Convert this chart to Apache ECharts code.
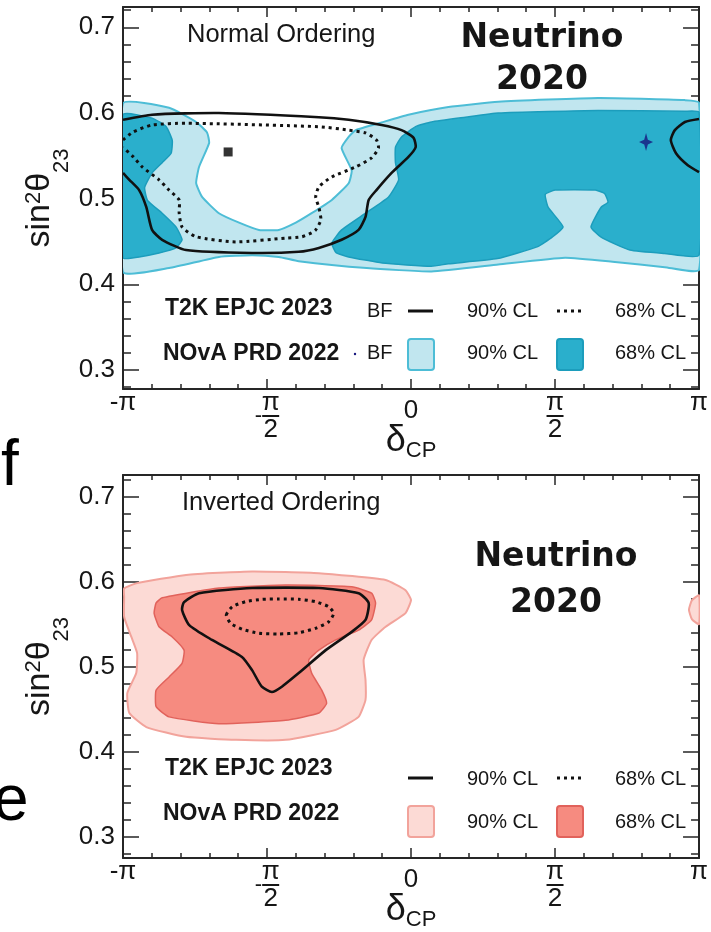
<!DOCTYPE html>
<html>
<head>
<meta charset="utf-8">
<title>T2K and NOvA: sin²θ23 vs δCP</title>
<script src="https://cdn.jsdelivr.net/npm/echarts@6/dist/echarts.min.js"></script>
<style>
  html, body { margin: 0; padding: 0; background: #fff; }
  #chart { width: 711px; height: 932px; }
</style>
</head>
<body>
<div id="chart"></div>
<script>
// δCP is stored in units of π (−1 … 1); sin²θ23 as is.

// ---- Normal ordering (upper panel) ----
const noNova90 = [
  [-1,0.611],[-0.84,0.606],[-0.746,0.5895],[-0.708,0.577],[-0.701,0.565],[-0.736,0.537],
  [-0.746,0.518],[-0.7255,0.502],[-0.667,0.483],[-0.597,0.472],[-0.528,0.4635],[-0.459,0.4635],
  [-0.400,0.472],[-0.345,0.483],[-0.275,0.4985],[-0.2165,0.518],[-0.206,0.533],[-0.241,0.559],
  [-0.2165,0.572],[-0.192,0.580],[-0.102,0.589],[-0.009,0.598],[0.13,0.607],[0.303,0.613],
  [0.649,0.6175],[0.95,0.615],[1,0.612],
  [1,0.417],[0.881,0.420],[0.708,0.426],[0.535,0.431],[0.303,0.423],[0.071,0.415],
  [-0.154,0.419],[-0.39,0.427],[-0.459,0.432],[-0.552,0.434],[-0.667,0.432],[-0.84,0.419],[-1,0.4145]
];
const noNova68Left = [
  [-1,0.598],[-0.899,0.594],[-0.85,0.584],[-0.829,0.568],[-0.833,0.553],[-0.864,0.542],
  [-0.899,0.530],[-0.925,0.513],[-0.915,0.498],[-0.864,0.483],[-0.816,0.467],[-0.795,0.452],
  [-0.816,0.4425],[-0.875,0.4365],[-0.944,0.432],[-1,0.431]
];
const noNova68Right = [
  [-0.275,0.448],[-0.241,0.4635],[-0.158,0.483],[-0.078,0.502],[-0.043,0.522],[-0.054,0.542],
  [-0.054,0.560],[-0.033,0.572],[0.016,0.584],[0.071,0.5895],[0.189,0.595],[0.303,0.600],
  [0.649,0.603],[0.95,0.602],[1,0.601],
  [1,0.434],[0.88,0.436],[0.76,0.440],[0.66,0.455],[0.625,0.467],[0.66,0.490],[0.684,0.496],
  [0.672,0.506],[0.64,0.510],[0.50,0.510],[0.466,0.505],[0.476,0.490],[0.528,0.467],
  [0.49,0.455],[0.44,0.444],[0.30,0.430],[0.13,0.424],[0.07,0.421],[-0.10,0.425],
  [-0.2165,0.432],[-0.26,0.437]
];
const noT2K90Main = [
  [-1,0.592],[-0.899,0.598],[-0.667,0.600],[-0.32,0.595],[-0.2165,0.592],[-0.102,0.586],
  [-0.033,0.580],[0.009,0.571],[0.016,0.560],[-0.009,0.5487],[-0.0675,0.530],[-0.12,0.510],
  [-0.147,0.4985],[-0.158,0.4787],[-0.182,0.4635],[-0.241,0.452],[-0.32,0.4425],[-0.39,0.438],
  [-0.552,0.4366],[-0.781,0.440],[-0.864,0.452],[-0.899,0.4635],[-0.919,0.490],[-0.944,0.510],
  [-0.978,0.522],[-1,0.530]
];
const noT2K90Wrap = [
  [1,0.593],[0.951,0.5895],[0.916,0.580],[0.902,0.5685],[0.92,0.553],[0.961,0.539],[1,0.531]
];
const noT2K68 = [
  [-1,0.5685],[-0.964,0.578],[-0.899,0.586],[-0.781,0.588],[-0.32,0.584],[-0.2165,0.580],
  [-0.158,0.5767],[-0.12,0.5685],[-0.113,0.559],[-0.137,0.5475],[-0.192,0.537],[-0.275,0.5253],
  [-0.32,0.5137],[-0.331,0.502],[-0.32,0.490],[-0.313,0.475],[-0.331,0.4635],[-0.345,0.460],
  [-0.379,0.4555],[-0.435,0.454],[-0.608,0.4495],[-0.746,0.4555],[-0.795,0.467],[-0.805,0.4833],
  [-0.805,0.4985],[-0.84,0.510],[-0.875,0.522],[-0.933,0.537],[-0.964,0.5487],[-1,0.560]
];
const noT2KBest = [[-0.635, 0.5545]];
const noNovaBest = [[0.816, 0.566]];

// ---- Inverted ordering (lower panel) ----
const ioNova90 = [
  [-0.996,0.592],[-0.954,0.598],[-0.781,0.608],[-0.552,0.612],[-0.32,0.610],[-0.088,0.602],
  [-0.019,0.590],[0,0.5785],[-0.019,0.563],[-0.088,0.547],[-0.137,0.5315],[-0.1645,0.508],
  [-0.158,0.4845],[-0.158,0.461],[-0.182,0.441],[-0.2615,0.4257],[-0.435,0.414],[-0.608,0.414],
  [-0.781,0.4175],[-0.919,0.429],[-0.978,0.4455],[-0.985,0.469],[-0.954,0.4925],[-0.951,0.516],
  [-0.971,0.535],[-0.996,0.5585],[-0.996,0.582]
];
const ioNova90Wrap = [[1,0.584],[0.975,0.578],[0.965,0.567],[0.975,0.556],[1,0.550]];
const ioNova68 = [
  [-0.892,0.563],[-0.885,0.575],[-0.864,0.581],[-0.667,0.5925],[-0.435,0.596],[-0.206,0.594],
  [-0.137,0.5865],[-0.123,0.575],[-0.137,0.555],[-0.182,0.543],[-0.2615,0.5315],[-0.32,0.5195],
  [-0.355,0.508],[-0.345,0.4925],[-0.31,0.4725],[-0.293,0.457],[-0.32,0.4455],[-0.435,0.437],
  [-0.667,0.433],[-0.84,0.441],[-0.885,0.453],[-0.885,0.4725],[-0.84,0.488],[-0.795,0.504],
  [-0.788,0.5195],[-0.829,0.535],[-0.875,0.547]
];
const ioT2K90 = [
  [-0.795,0.5667],[-0.788,0.576],[-0.736,0.5865],[-0.552,0.5925],[-0.32,0.5925],[-0.182,0.5865],
  [-0.147,0.575],[-0.158,0.555],[-0.206,0.541],[-0.296,0.5195],[-0.39,0.4925],[-0.4485,0.4765],
  [-0.483,0.4703],[-0.518,0.4765],[-0.552,0.496],[-0.587,0.5115],[-0.691,0.5315],[-0.77,0.549]
];
const ioT2K68 = [
  [-0.6414,0.5608],[-0.6206,0.5706],[-0.5742,0.5765],[-0.5167,0.5793],[-0.4589,0.5796],
  [-0.3896,0.5793],[-0.3318,0.5765],[-0.2857,0.5706],[-0.2684,0.5628],[-0.2857,0.5529],
  [-0.3318,0.5452],[-0.3896,0.540],[-0.4589,0.5385],[-0.5281,0.5393],[-0.586,0.544],[-0.6262,0.551]
];

// ---- Axis ticks and labels ----
const xMajorTicks = [-1, -0.5, 0, 0.5, 1];
const xTickText = ['{p|-π}', '{g|-}{p|π}\n{m|-}{bar| }\n{g|-}{d|2}', '{z|0}', '{p|π}\n{bar| }\n{d|2}', '{p|π}'];
const yMajorTicks = [0.3, 0.4, 0.5, 0.6, 0.7];
const yMinorTicks = [0.28,0.30,0.32,0.34,0.36,0.38,0.40,0.42,0.44,0.46,0.48,0.50,0.52,0.54,0.56,0.58,0.60,0.62,0.64,0.66,0.68,0.70,0.72];
const yTickText = ['0.3', '0.4', '0.5', '0.6', '0.7'];

const FONT = 'Liberation Sans, Arial, Helvetica, sans-serif';
const INK = '#161616';
const FRAME = '#262626';

const xLabelRich = {
  p:   { fontSize: 26, lineHeight: 21, fontFamily: FONT, color: INK },
  g:   { fontSize: 22, lineHeight: 21, fontFamily: FONT, color: 'rgba(0,0,0,0)' },
  m:   { fontSize: 22, lineHeight: 6, fontFamily: FONT, color: INK },
  bar: { width: 17, height: 2, lineHeight: 6, fontSize: 2, backgroundColor: INK },
  d:   { fontSize: 26, lineHeight: 22, fontFamily: FONT, color: INK },
  z:   { fontSize: 26, lineHeight: 22, fontFamily: FONT, color: INK, padding: [15, 0, 0, 0] }
};

function xAxisPair(g) {
  const common = {
    type: 'value', gridIndex: g, min: -1, max: 1, interval: 0.5,
    axisLine: { show: true, onZero: false, lineStyle: { color: FRAME, width: 2 } },
    axisTick: { show: true, inside: true, length: 10, lineStyle: { color: FRAME, width: 1.5 } },
    minorTick: { show: true, splitNumber: 5, length: 5, lineStyle: { color: FRAME, width: 1.5 } },
    splitLine: { show: false }, minorSplitLine: { show: false }
  };
  return [
    Object.assign({}, common, {
      position: 'bottom',
      axisLabel: {
        show: true, margin: 3, interval: 0, showMinLabel: true, showMaxLabel: true, hideOverlap: false,
        formatter: v => {
          const i = xMajorTicks.findIndex(t => Math.abs(t - v) < 1e-6);
          return i >= 0 ? xTickText[i] : '';
        },
        rich: xLabelRich
      },
      name: '{d|δ}{s|CP}', nameLocation: 'middle', nameGap: 34, nameMoveOverlap: false,
      nameTextStyle: {
        color: INK, fontFamily: FONT,
        rich: {
          d: { fontSize: 36, lineHeight: 36, verticalAlign: 'top', fontFamily: FONT, color: INK },
          s: { fontSize: 22, lineHeight: 22, padding: [17, 0, 0, 0], verticalAlign: 'top', fontFamily: FONT, color: INK }
        }
      }
    }),
    Object.assign({}, common, { position: 'top', axisLabel: { show: false } })
  ];
}

function yAxisSet(g, min, max) {
  const major = side => ({
    type: 'value', gridIndex: g, position: side, min, max,
    axisLine: { show: true, onZero: false, lineStyle: { color: FRAME, width: 2 } },
    axisTick: { show: true, inside: true, length: 16, customValues: yMajorTicks, lineStyle: { color: FRAME, width: 1.5 } },
    splitLine: { show: false }
  });
  const minor = side => ({
    type: 'value', gridIndex: g, position: side, min, max,
    axisLine: { show: false, onZero: false },
    axisTick: { show: true, inside: true, length: 8, customValues: yMinorTicks, lineStyle: { color: FRAME, width: 1.5 } },
    axisLabel: { show: false },
    splitLine: { show: false }
  });
  const left = major('left');
  left.axisLabel = {
    show: true, margin: 8, customValues: yMajorTicks, fontSize: 26, fontFamily: FONT, color: INK,
    formatter: v => {
      const i = yMajorTicks.findIndex(t => Math.abs(t - v) < 1e-6);
      return i >= 0 ? yTickText[i] : '';
    }
  };
  left.name = '{a|sin}{sup|2}{a|θ}{sub|23}';
  left.nameLocation = 'middle';
  left.nameRotate = 90;
  left.nameGap = 66;
  left.nameMoveOverlap = false;
  left.nameTextStyle = {
    color: INK, fontFamily: FONT,
    rich: {
      a:   { fontSize: 34, lineHeight: 34, verticalAlign: 'top', fontFamily: FONT, color: INK },
      sup: { fontSize: 22, lineHeight: 10, verticalAlign: 'top', fontFamily: FONT, color: INK },
      sub: { fontSize: 22, lineHeight: 22, padding: [28, 0, 0, 0], verticalAlign: 'top', fontFamily: FONT, color: INK }
    }
  };
  const right = major('right');
  right.axisLabel = { show: false };
  return [left, minor('left'), right, minor('right')];
}

// Filled confidence region drawn as one polygon through the axis scales.
function region(name, pts, g, fill, stroke, lw, z) {
  return {
    type: 'custom', name, xAxisIndex: g * 2, yAxisIndex: g * 4, z, silent: true, clip: true,
    data: pts,
    renderItem: (params, api) => params.dataIndex === 0 ? {
      type: 'polygon',
      shape: { points: pts.map(p => api.coord(p)), smooth: 0.15 },
      style: { fill, stroke, lineWidth: lw, lineJoin: 'round' }
    } : null
  };
}

// Contour line (open or closed), solid or dotted.
function contour(name, pts, g, closed, dotted, z) {
  return {
    type: 'custom', name, xAxisIndex: g * 2, yAxisIndex: g * 4, z, silent: true, clip: true,
    data: pts,
    renderItem: (params, api) => params.dataIndex === 0 ? {
      type: closed ? 'polygon' : 'polyline',
      shape: { points: pts.map(p => api.coord(p)), smooth: 0.2 },
      style: dotted
        ? { fill: 'none', stroke: '#111', lineWidth: 3, lineDash: [3, 4], lineCap: 'butt' }
        : { fill: 'none', stroke: '#111', lineWidth: 2.6, lineJoin: 'round' }
    } : null
  };
}

const NO_LIGHT = '#c1e6ef', NO_LIGHT_EDGE = '#4dbdd6';
const NO_DARK = '#2aafcc', NO_DARK_EDGE = '#1c9dbc';
const IO_LIGHT = '#fcdad5', IO_LIGHT_EDGE = '#f2a39b';
const IO_DARK = '#f68b80', IO_DARK_EDGE = '#e1625b';

const STAR = 'path://M0,-10L2.6,-2.6L10,0L2.6,2.6L0,10L-2.6,2.6L-10,0L-2.6,-2.6Z';

const series = [
  region('NOvA 90% CL (NO)', noNova90, 0, NO_LIGHT, NO_LIGHT_EDGE, 2, 1),
  region('NOvA 68% CL (NO) left', noNova68Left, 0, NO_DARK, NO_DARK_EDGE, 1.5, 2),
  region('NOvA 68% CL (NO)', noNova68Right, 0, NO_DARK, NO_DARK_EDGE, 1.5, 2),
  contour('T2K 90% CL (NO)', noT2K90Main, 0, false, false, 3),
  contour('T2K 90% CL (NO) wrap', noT2K90Wrap, 0, false, false, 3),
  contour('T2K 68% CL (NO)', noT2K68, 0, false, true, 3),
  { type: 'scatter', name: 'T2K BF (NO)', xAxisIndex: 0, yAxisIndex: 0, z: 4, silent: true,
    data: noT2KBest, symbol: 'rect', symbolSize: 9, itemStyle: { color: '#000' } },
  { type: 'scatter', name: 'NOvA BF (NO)', xAxisIndex: 0, yAxisIndex: 0, z: 4, silent: true,
    data: noNovaBest, symbol: STAR, symbolSize: [14, 18], itemStyle: { color: '#17177e' } },

  region('NOvA 90% CL (IO)', ioNova90, 1, IO_LIGHT, IO_LIGHT_EDGE, 2, 1),
  region('NOvA 90% CL (IO) wrap', ioNova90Wrap, 1, IO_LIGHT, IO_LIGHT_EDGE, 2, 1),
  region('NOvA 68% CL (IO)', ioNova68, 1, IO_DARK, IO_DARK_EDGE, 1.5, 2),
  contour('T2K 90% CL (IO)', ioT2K90, 1, true, false, 3),
  contour('T2K 68% CL (IO)', ioT2K68, 1, true, true, 3)
];

function txt(text, x, y, size, opts) {
  return {
    type: 'text', x, y, z: 10, silent: true,
    style: Object.assign({
      text, fontSize: size, fontFamily: FONT, fill: INK, align: 'left', verticalAlign: 'middle'
    }, opts || {})
  };
}
function sampleLine(x1, x2, y, dotted) {
  return {
    type: 'line', z: 10, silent: true, shape: { x1, y1: y, x2, y2: y },
    style: dotted ? { stroke: '#111', lineWidth: 3, lineDash: [3, 4] } : { stroke: '#111', lineWidth: 3 }
  };
}
function sampleBox(x, y, fill, stroke) {
  return {
    type: 'rect', z: 10, silent: true, shape: { x, y, width: 26, height: 31, r: 3 },
    style: { fill, stroke, lineWidth: 2 }
  };
}
const BOLD = { fontWeight: 'bold' };
const TITLE = { fontWeight: 'bold', fontFamily: 'DejaVu Sans, Verdana, sans-serif', align: 'center' };

const graphic = [
  // upper panel annotations
  txt('Normal Ordering', 187, 35, 25.5),
  txt('Neutrino', 542, 38, 33, TITLE),
  txt('2020', 542, 80, 33, TITLE),
  txt('T2K EPJC 2023', 165, 309, 23, BOLD),
  txt('BF', 367, 311, 20),
  sampleLine(408, 433, 311, false),
  txt('90% CL', 467, 311, 20),
  sampleLine(557, 583, 311, true),
  txt('68% CL', 615, 311, 20),
  txt('NOvA PRD 2022', 163, 354, 23, BOLD),
  { type: 'circle', z: 10, silent: true, shape: { cx: 355, cy: 354, r: 1.2 }, style: { fill: '#17177e' } },
  txt('BF', 367, 353, 20),
  sampleBox(408, 339, NO_LIGHT, NO_LIGHT_EDGE),
  txt('90% CL', 467, 353, 20),
  sampleBox(557, 339, NO_DARK, NO_DARK_EDGE),
  txt('68% CL', 615, 353, 20),

  // lower panel annotations
  txt('Inverted Ordering', 182, 503, 25.5),
  txt('Neutrino', 556, 557, 33, TITLE),
  txt('2020', 556, 603, 33, TITLE),
  txt('T2K EPJC 2023', 165, 769, 23, BOLD),
  sampleLine(408, 433, 778, false),
  txt('90% CL', 467, 779, 20),
  sampleLine(557, 583, 778, true),
  txt('68% CL', 615, 779, 20),
  txt('NOvA PRD 2022', 163, 814, 23, BOLD),
  sampleBox(408, 806, IO_LIGHT, IO_LIGHT_EDGE),
  txt('90% CL', 467, 822, 20),
  sampleBox(557, 806, IO_DARK, IO_DARK_EDGE),
  txt('68% CL', 615, 822, 20),

  // panel letters
  txt('f', 1, 467, 64, { fill: '#000' }),
  txt('e', -7, 802, 64, { fill: '#000' })
];

const chart = echarts.init(document.getElementById('chart'), null, { renderer: 'canvas' });
chart.setOption({
  animation: false,
  backgroundColor: '#ffffff',
  textStyle: { fontFamily: FONT },
  grid: [
    { left: 123, top: 7, width: 577, height: 382 },
    { left: 123, top: 475, width: 577, height: 383 }
  ],
  xAxis: [...xAxisPair(0), ...xAxisPair(1)],
  yAxis: [...yAxisSet(0, 0.2778, 0.7237), ...yAxisSet(1, 0.275, 0.7255)],
  series,
  graphic
});
</script>
</body>
</html>
